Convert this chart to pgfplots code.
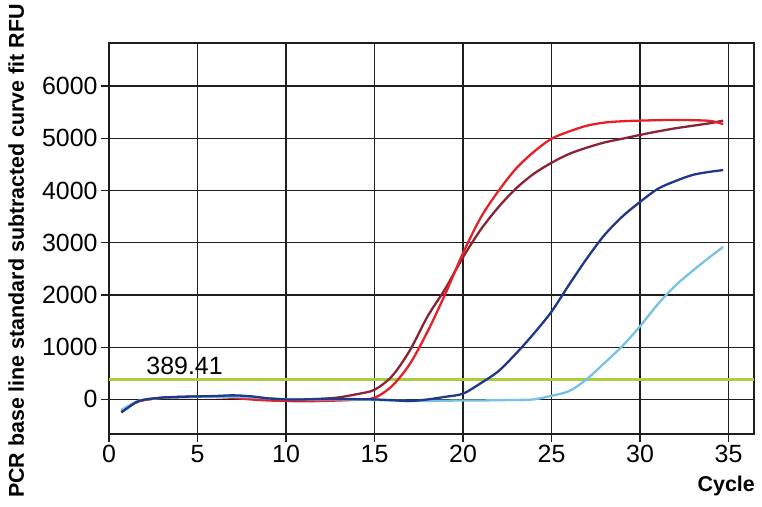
\documentclass[border=0pt]{standalone}
\usepackage{fontspec}
\setmainfont{Liberation Sans}
\usepackage{pgfplots}
\pgfplotsset{compat=1.18}
\definecolor{cred}{RGB}{228,32,40}
\definecolor{cdarkred}{RGB}{138,36,52}
\definecolor{cdarkblue}{RGB}{32,56,140}
\definecolor{clightblue}{RGB}{118,194,230}
\definecolor{cgreen}{RGB}{168,206,62}
\definecolor{cgrid}{RGB}{30,30,30}

\begin{document}
\begin{tikzpicture}
\begin{axis}[
    scale only axis,
    width=645bp, height=391bp,
    xmin=0, xmax=36.44,
    ymin=-662, ymax=6823,
    xtick={0,5,...,35},
    ytick={0,1000,...,6000},
    xtick pos=bottom, ytick pos=left,
    tick align=outside,
    major tick length=8bp,
    grid=major,
    major grid style={cgrid, line width=1.3bp},
    axis line style={cgrid, line width=1.3bp},
    tick style={cgrid, line width=1.3bp},
    scaled y ticks=false,
    /pgf/number format/1000 sep={},
    /pgf/number format/assume math mode=true,
    tick label style={font=\fontsize{25}{28}\selectfont},
    xlabel={Cycle},
    ylabel={PCR base line standard subtracted curve fit RFU},
    label style={font=\fontsize{21.5}{24}\selectfont\bfseries},
    xlabel style={at={(rel axis cs:0.957,-0.133)}, anchor=center},
    ylabel style={at={(rel axis cs:-0.144,0.468)}, anchor=center},
    clip=true,
]
% threshold
\addplot[cgreen, line width=3bp] coordinates {(0,389.41) (36.44,389.41)};
\node[anchor=base, font=\fontsize{25}{28}\selectfont] at (axis cs:4.27,472) {389.41};

% dark red
\addplot[cdarkred, line width=2.3bp, smooth] coordinates {
(0.7,-230) (1.5,-60) (2,-10) (3,30) (4,45) (5,55) (6,55) (7,50) (8,30) (9,10)
(10,0) (11,0) (12,10) (13,40) (14,100) (15,185) (16,450) (17,940) (18,1590)
(19,2120) (20,2720) (21,3250) (22,3680) (23,4040) (24,4320) (25,4530) (26,4700)
(27,4820) (28,4920) (29,4990) (30,5063) (31,5130) (32,5190) (33,5240) (34,5290)
(34.7,5337)
};
% red
\addplot[cred, line width=2.3bp, smooth] coordinates {
(0.7,-230) (1.5,-60) (2,-10) (3,30) (4,45) (5,50) (6,45) (7,30) (8,0) (9,-20)
(10,-30) (11,-35) (12,-30) (13,-20) (14,-5) (15,30) (16,260) (17,680) (18,1300)
(19,2020) (20,2800) (21,3480) (22,3990) (23,4420) (24,4740) (25,4990) (26,5130)
(27,5240) (28,5300) (29,5325) (30,5337) (31,5345) (32,5350) (33,5345) (34,5330)
(34.7,5270)
};
% light blue
\addplot[clightblue, line width=2.3bp, smooth] coordinates {
(0.7,-200) (1.5,-50) (2,0) (3,30) (4,45) (5,50) (6,50) (7,50) (8,40) (9,20)
(10,5) (11,0) (12,0) (13,0) (14,-5) (15,-10) (16,-20) (17,-30) (18,-30) (19,-25)
(20,-20) (21,-20) (22,-15) (23,-10) (24,0) (25,70) (26,160) (27,390) (28,700)
(29,1020) (30,1400) (31,1820) (32,2180) (33,2470) (34,2740) (34.7,2920)
};
% dark blue
\addplot[cdarkblue, line width=2.3bp, smooth] coordinates {
(0.7,-250) (1.5,-60) (2,-5) (3,35) (4,50) (5,57) (6,65) (7,78) (8,60) (9,20)
(10,0) (11,0) (12,10) (13,10) (14,5) (15,0) (16,-15) (17,-30) (18,0) (19,50)
(20,110) (21,310) (22,540) (23,880) (24,1260) (25,1680) (26,2200) (27,2700)
(28,3150) (29,3500) (30,3780) (31,4030) (32,4180) (33,4300) (34,4360) (34.7,4390)
};
\end{axis}
\pgfresetboundingbox
\useasboundingbox ([xshift=-109bp,yshift=-73bp]current axis.south west) rectangle ([xshift=8bp,yshift=43bp]current axis.north east);
\end{tikzpicture}
\end{document}
